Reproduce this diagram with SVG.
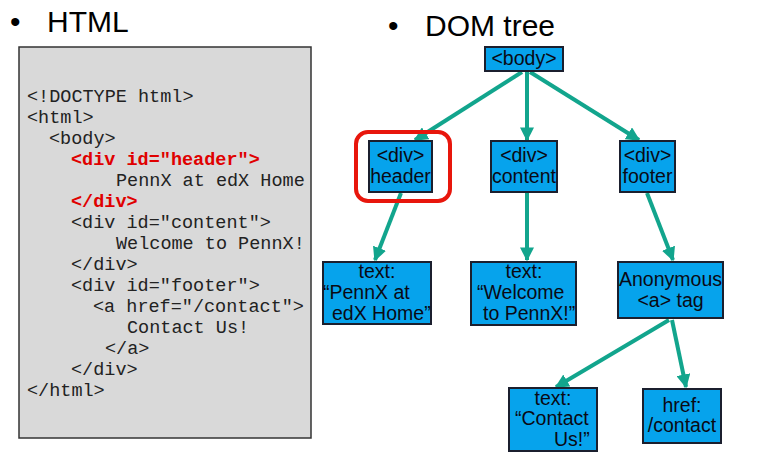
<svg xmlns="http://www.w3.org/2000/svg" width="769" height="454" viewBox="0 0 769 454">
<defs>
<style>
.title{font-family:"Liberation Sans",Arial,sans-serif;font-size:30px;fill:#000}
.code{font-family:"Liberation Mono","Courier New",monospace;font-size:18.5px;fill:#222}
.red{fill:#e00000;font-weight:bold}
.node rect{fill:#06a3ec;stroke:#1b1f2e;stroke-width:2}
.node text{font-family:"Liberation Sans",Arial,sans-serif;font-size:19.5px;fill:#0a0a14}
.c{text-anchor:middle}
#connectors line{stroke:#12a58d;stroke-width:4;marker-end:url(#ah)}
</style>
<marker id="ah" viewBox="0 0 10 10" refX="9" refY="5" markerWidth="14" markerHeight="14" markerUnits="userSpaceOnUse" orient="auto">
<path d="M0,0 L10,5 L0,10 z" fill="#12a58d"/>
</marker>
</defs>
<rect width="769" height="454" fill="#fff"/>

<g id="titles">
<text class="title" x="10" y="32">•</text>
<text class="title" x="47" y="32">HTML</text>
<text class="title" x="388" y="36">•</text>
<text class="title" x="425" y="36">DOM tree</text>
</g>

<g id="html-code">
<rect x="19" y="47" width="292" height="391" fill="#d9d9d9" stroke="#333" stroke-width="1.5"/>
<text class="code" x="27" y="102">&lt;!DOCTYPE html&gt;</text>
<text class="code" x="27" y="123">&lt;html&gt;</text>
<text class="code" x="49" y="144">&lt;body&gt;</text>
<text class="code red" x="71" y="165">&lt;div id="header"&gt;</text>
<text class="code" x="116" y="186">PennX at edX Home</text>
<text class="code red" x="71" y="207">&lt;/div&gt;</text>
<text class="code" x="71" y="228">&lt;div id="content"&gt;</text>
<text class="code" x="116" y="249">Welcome to PennX!</text>
<text class="code" x="71" y="270">&lt;/div&gt;</text>
<text class="code" x="71" y="291">&lt;div id="footer"&gt;</text>
<text class="code" x="93" y="312">&lt;a href="/contact"&gt;</text>
<text class="code" x="127" y="333">Contact Us!</text>
<text class="code" x="105" y="354">&lt;/a&gt;</text>
<text class="code" x="71" y="375">&lt;/div&gt;</text>
<text class="code" x="27" y="396">&lt;/html&gt;</text>
</g>

<g id="connectors">
<line x1="522" y1="72" x2="415" y2="140"/>
<line x1="527" y1="72" x2="527" y2="140"/>
<line x1="530" y1="72" x2="639" y2="140"/>
<line x1="401" y1="193" x2="375" y2="260"/>
<line x1="527" y1="193" x2="527" y2="260"/>
<line x1="647" y1="193" x2="673" y2="260"/>
<line x1="669" y1="320" x2="556" y2="387"/>
<line x1="672" y1="320" x2="686" y2="387"/>
</g>

<g id="body" class="node">
<rect x="485" y="47" width="78" height="24"/>
<text class="c" x="524" y="65">&lt;body&gt;</text>
</g>

<g id="div-header" class="node">
<rect x="369" y="141" width="63" height="51"/>
<text class="c" x="400.5" y="162">&lt;div&gt;</text>
<text class="c" x="400.5" y="183">header</text>
</g>

<g id="highlight">
<rect x="356" y="132" width="94" height="69" rx="12" ry="12" fill="none" stroke="#e8160c" stroke-width="4"/>
</g>

<g id="div-content" class="node">
<rect x="491" y="141" width="66" height="51"/>
<text class="c" x="524" y="162">&lt;div&gt;</text>
<text class="c" x="524" y="183">content</text>
</g>

<g id="div-footer" class="node">
<rect x="620" y="141" width="55" height="51"/>
<text class="c" x="647.5" y="162">&lt;div&gt;</text>
<text class="c" x="647.5" y="183">footer</text>
</g>

<g id="text-header" class="node">
<rect x="323" y="262" width="108" height="62"/>
<text class="c" x="377" y="278">text:</text>
<text x="323" y="299">“PennX at</text>
<text x="332" y="320">edX Home”</text>
</g>

<g id="text-content" class="node">
<rect x="471" y="262" width="105" height="63"/>
<text class="c" x="524" y="278">text:</text>
<text x="477" y="299">“Welcome</text>
<text x="483" y="320">to PennX!”</text>
</g>

<g id="anchor" class="node">
<rect x="618" y="262" width="105" height="56"/>
<text class="c" x="670.5" y="286">Anonymous</text>
<text class="c" x="670.5" y="307">&lt;a&gt; tag</text>
</g>

<g id="text-contact" class="node">
<rect x="509" y="388" width="88" height="63"/>
<text class="c" x="553" y="405">text:</text>
<text x="515" y="425">“Contact</text>
<text x="554" y="446">Us!”</text>
</g>

<g id="href" class="node">
<rect x="643" y="389" width="78" height="54"/>
<text class="c" x="682" y="412">href:</text>
<text class="c" x="682" y="432">/contact</text>
</g>
</svg>
